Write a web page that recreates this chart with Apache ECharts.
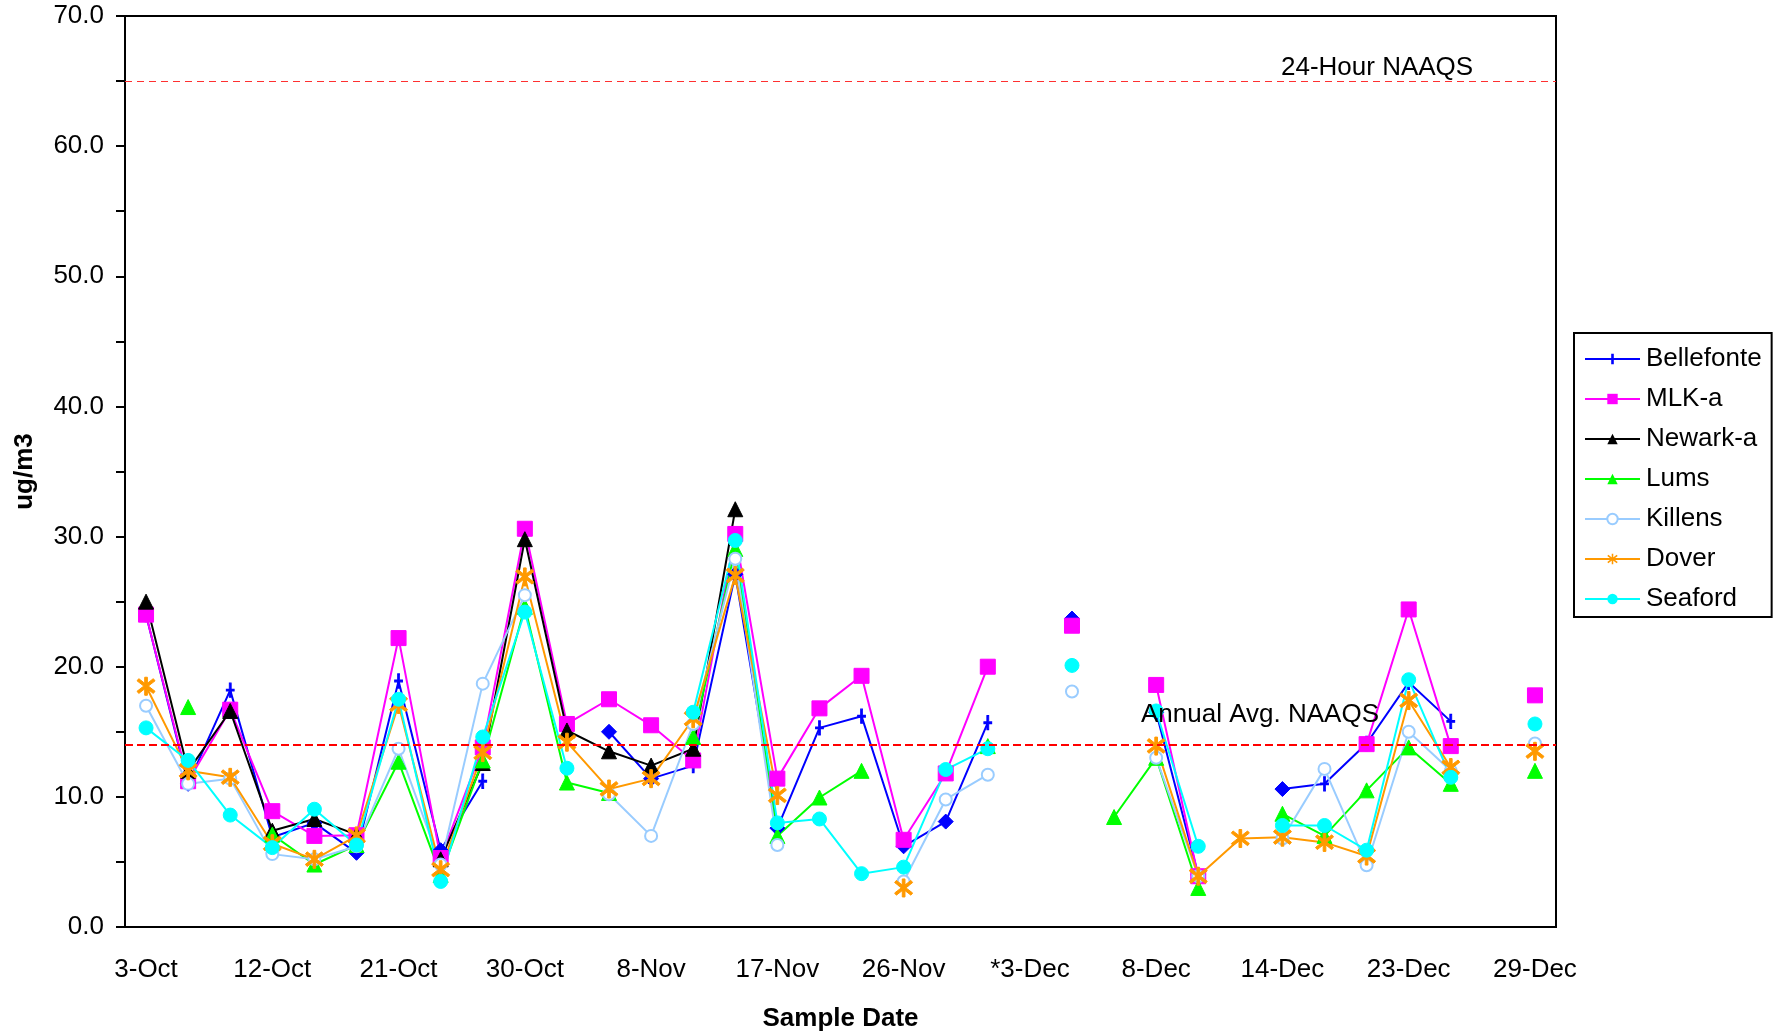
<!DOCTYPE html>
<html>
<head>
<meta charset="utf-8">
<title>PM2.5 sample dates</title>
<script src="https://cdn.jsdelivr.net/npm/echarts@6.0.0/dist/echarts.min.js"></script>
<style>
  html, body { margin: 0; padding: 0; background: #fff; }
  #chart { width: 1775px; height: 1034px; }
</style>
</head>
<body>
<div id="chart"></div>
<script>
// sample dates (only every third one is labelled on the axis)
const dates = [
  '3-Oct', '6-Oct', '9-Oct', '12-Oct', '15-Oct', '18-Oct', '21-Oct', '24-Oct', '27-Oct',
  '30-Oct', '2-Nov', '5-Nov', '8-Nov', '11-Nov', '14-Nov', '17-Nov', '20-Nov', '23-Nov',
  '26-Nov', '29-Nov', '2-Dec', '*3-Dec', '5-Dec', '6-Dec', '8-Dec', '11-Dec', '12-Dec',
  '14-Dec', '17-Dec', '20-Dec', '23-Dec', '26-Dec', '27-Dec', '29-Dec'
];

// ug/m3, null = no sample
const bellefonte = [24.0, 11.0, 18.2, 6.9, 8.0, 5.7, 18.9, 5.9, 11.2, null, null, 15.0, 11.4, 12.4, 27.1, 7.6, 15.3,
  16.2, 6.2, 8.1, 15.7, null, 23.7, null, 16.5, 4.0, null, 10.6, 11.0, 14.1, 18.8, 15.8, null, null];
const mlkA = [24.0, 11.2, 16.7, 8.9, 7.0, 7.05, 22.2, 5.3, 13.8, 30.6, 15.6, 17.5, 15.5, 12.8, 30.2, 11.4, 16.8,
  19.3, 6.7, 11.8, 20.0, null, 23.15, null, 18.6, 3.9, null, null, null, 14.05, 24.4, 13.9, null, 17.8];
const newarkA = [25.0, 12.0, 16.6, 7.4, 8.3, 7.1, null, 5.2, 12.6, 29.8, 15.1, 13.5, 12.4, 13.7, 32.1, null, null,
  null, null, null, null, null, null, null, null, null, null, null, null, null, null, null, null, null];
const lums = [null, 16.9, null, 7.1, 4.8, 6.3, 12.7, 4.0, 12.8, 24.6, 11.1, 10.3, null, 14.6, 29.05, 7.0, 9.95,
  12.0, null, null, 13.9, null, null, 8.45, 13.0, 3.0, null, 8.7, 7.0, 10.5, 13.8, 11.0, null, 12.0];
const killens = [17.0, 11.0, 11.4, 5.6, 5.2, 6.2, 13.7, 4.8, 18.7, 25.5, null, 10.2, 7.0, 15.6, 28.3, 6.3, null,
  null, 3.5, 9.8, 11.7, null, 18.1, null, 13.0, 3.9, null, 6.8, 12.15, 4.75, 15.0, 12.0, null, 14.1];
const dover = [18.5, 12.0, 11.5, 6.4, 5.2, 7.0, 17.1, 4.4, 13.4, 26.9, 14.2, 10.6, 11.4, 16.0, 27.0, 10.1, null,
  null, 3.0, null, null, null, null, null, 13.9, 3.9, 6.8, 6.9, 6.5, 5.45, 17.4, 12.25, null, 13.5];
const seaford = [15.3, 12.8, 8.6, 6.1, 9.05, 6.3, 17.5, 3.5, 14.6, 24.2, 12.2, null, null, 16.5, 29.7, 8.0, 8.3,
  4.1, 4.6, 12.1, 13.7, null, 20.1, null, 16.6, 6.2, null, 7.8, 7.8, 5.9, 19.0, 11.5, null, 15.6];

// standards
const naaqs24h = 65;
const naaqsAnnual = 14;

// Bellefonte samples drawn with a diamond instead of the plus
const belleDiamond = new Set([1, 3, 4, 5, 7, 11, 12, 14, 15, 18, 19, 22, 24, 25, 27]);

const FONT = 'Liberation Sans, Arial, sans-serif';
const PLUS = 'path://M3,0L5,0L5,6.2L8,6.2L8,7.8L5,7.8L5,14L3,14L3,7.8L0,7.8L0,6.2L3,6.2Z';
const STAR = 'path://M8.6,0L11.4,0L11.4,20L8.6,20Z M2.4,1.6L19.4,15.6L17.6,18L0.6,4Z M17.6,1.6L19.4,4L2.4,18L0.6,15.6Z';

const makeSeries = (name, data, color, symbol, symbolSize, extra) => Object.assign({
  name,
  type: 'line',
  data,
  symbol,
  symbolSize,
  showSymbol: true,
  showAllSymbol: true,
  connectNulls: false,
  animation: false,
  lineStyle: { color, width: 2 },
  itemStyle: { color, borderColor: color },
  emphasis: { disabled: true }
}, extra || {});

const chart = echarts.init(document.getElementById('chart'));

const belleData = bellefonte.map((v, i) => belleDiamond.has(i) && v != null
  ? { value: v, symbol: 'diamond', symbolSize: 15 }
  : v);

const option = {
  backgroundColor: '#fff',
  textStyle: { fontFamily: FONT },
  grid: {
    left: 125, right: 219, top: 16, bottom: 107,
    outerBoundsMode: 'none',
    containLabel: false,
    show: true, borderColor: '#000', borderWidth: 2, backgroundColor: 'transparent'
  },
  legend: {
    orient: 'vertical',
    left: 1574, top: 333,
    padding: [12, 10, 4, 10],
    borderColor: '#000', borderWidth: 2,
    itemWidth: 55, itemHeight: 13, itemGap: 12,
    textStyle: { fontSize: 26, lineHeight: 28, color: '#000', fontFamily: FONT, padding: [0, 0, 0, 1] },
    data: ['Bellefonte', 'MLK-a', 'Newark-a', 'Lums', 'Killens', 'Dover', 'Seaford']
  },
  xAxis: {
    type: 'category',
    data: dates,
    boundaryGap: true,
    name: 'Sample Date',
    nameLocation: 'middle',
    nameGap: 79,
    nameTextStyle: { fontSize: 26, fontWeight: 'bold', color: '#000', fontFamily: FONT },
    axisLine: { lineStyle: { color: '#000', width: 2 } },
    axisTick: { interval: 0, length: 9, lineStyle: { color: '#000', width: 2 } },
    axisLabel: { interval: 2, fontSize: 26, color: '#000', margin: 30, fontFamily: FONT },
    splitLine: { show: false }
  },
  yAxis: {
    type: 'value',
    min: 0, max: 70, interval: 10,
    name: 'ug/m3',
    nameLocation: 'middle',
    nameRotate: 90,
    nameGap: 87,
    nameTextStyle: { fontSize: 26, fontWeight: 'bold', color: '#000', fontFamily: FONT },
    axisLine: { show: true, lineStyle: { color: '#000', width: 2 } },
    axisTick: { show: true, length: 9, lineStyle: { color: '#000', width: 2 } },
    minorTick: { show: true, splitNumber: 2, length: 9, lineStyle: { color: '#000', width: 2 } },
    axisLabel: {
      fontSize: 26, color: '#000', margin: 21, fontFamily: FONT, padding: [10, 0, 0, 0],
      formatter: v => v.toFixed(1)
    },
    splitLine: { show: false }
  },
  series: [
    makeSeries('Bellefonte', belleData, '#0000FF', PLUS, [8, 14], {
      markLine: {
        silent: true,
        symbol: 'none',
        animation: false,
        label: { show: false },
        data: [
          { yAxis: naaqs24h, lineStyle: { color: '#FF3030', width: 1.2, type: [7, 5] } },
          { yAxis: naaqsAnnual, lineStyle: { color: '#FF0000', width: 2, type: [8, 4] } }
        ]
      }
    }),
    makeSeries('MLK-a', mlkA, '#FF00FF', 'rect', 15),
    makeSeries('Newark-a', newarkA, '#000000', 'triangle', 15),
    makeSeries('Lums', lums, '#00FF00', 'triangle', 15),
    makeSeries('Killens', killens, '#99CCFF', 'emptyCircle', 12, {
      itemStyle: { color: '#99CCFF', borderColor: '#99CCFF', borderWidth: 2 }
    }),
    makeSeries('Dover', dover, '#FF9900', STAR, 18),
    makeSeries('Seaford', seaford, '#00FFFF', 'circle', 14)
  ],
  graphic: [
    {
      type: 'text', left: 1281, top: 55, z: 100,
      style: { text: '24-Hour NAAQS', fontSize: 26, fontFamily: FONT, fill: '#000' }
    },
    {
      type: 'text', left: 1141, top: 702, z: 100,
      style: { text: 'Annual Avg. NAAQS', fontSize: 26, fontFamily: FONT, fill: '#000' }
    }
  ]
};

chart.setOption(option);
</script>
</body>
</html>
